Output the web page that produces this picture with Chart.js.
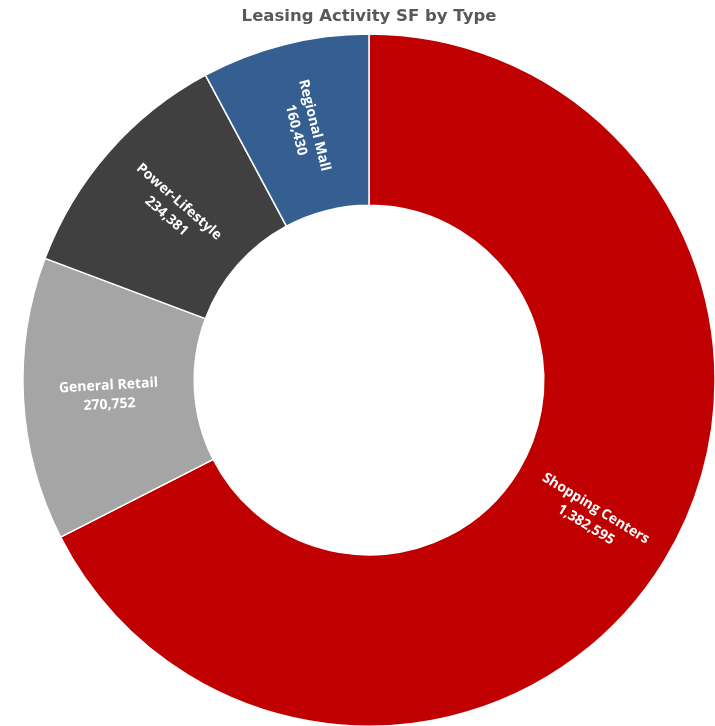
<!DOCTYPE html>
<html>
<head>
<meta charset="utf-8">
<script src="https://cdn.jsdelivr.net/npm/chart.js@4.4.1/dist/chart.umd.min.js"></script>
<style>
  html, body { margin: 0; padding: 0; background: #fff; overflow: hidden; }
  #wrap { width: 740px; height: 760px; position: relative; }
</style>
</head>
<body>
<div id="wrap"><canvas id="chart"></canvas></div>
<script>
// Leasing activity by property type (SF)
const categories = ['Shopping Centers', 'General Retail', 'Power-Lifestyle', 'Regional Mall'];
const sqft = [1382595, 270752, 234381, 160430];
const sliceColors = ['#C00000', '#A5A5A5', '#404040', '#355F91'];

// draws "name / value" inside each slice, rotated along the radius
const sliceLabels = {
  id: 'sliceLabels',
  afterDatasetsDraw(chart) {
    const ctx = chart.ctx;
    const meta = chart.getDatasetMeta(0);
    meta.data.forEach((arc, i) => {
      const p = arc.getCenterPoint();
      let a = (arc.startAngle + arc.endAngle) / 2;
      // keep text readable left-to-right
      while (a > Math.PI / 2) a -= Math.PI;
      while (a < -Math.PI / 2) a += Math.PI;
      ctx.save();
      ctx.translate(p.x, p.y);
      ctx.rotate(a);
      ctx.fillStyle = '#fff';
      ctx.font = 'bold 14px "Open Sans"';
      ctx.textAlign = 'center';
      ctx.textBaseline = 'middle';
      ctx.fillText(categories[i], 0, -9);
      ctx.fillText(sqft[i].toLocaleString('en-US'), 0, 10);
      ctx.restore();
    });
  }
};

new Chart(document.getElementById('chart'), {
  type: 'doughnut',
  data: {
    labels: categories,
    datasets: [{
      data: sqft,
      backgroundColor: sliceColors,
      borderColor: '#fff',
      borderWidth: 1.5,
    }],
  },
  options: {
    responsive: true,
    maintainAspectRatio: false,
    animation: false,
    cutout: '50.5%',
    layout: {
      padding: { left: 22, right: 24, top: 0, bottom: 33 },
    },
    plugins: {
      legend: { display: false },
      tooltip: { enabled: false },
      title: {
        display: true,
        text: 'Leasing Activity SF by Type',
        color: '#595959',
        font: { family: 'DejaVu Sans', size: 16.5, weight: 'bold' },
        padding: { top: 7, bottom: 6.5 },
      },
    },
  },
  plugins: [sliceLabels],
});
</script>
</body>
</html>
